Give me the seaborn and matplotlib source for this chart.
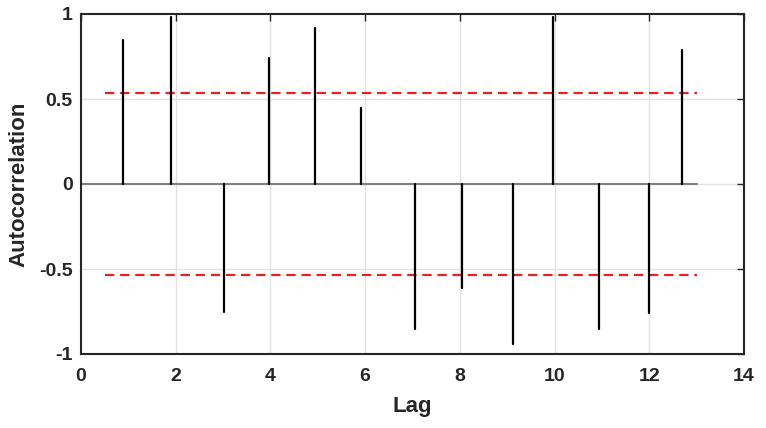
import numpy as np
import pandas as pd
import matplotlib
matplotlib.use("Agg")
import matplotlib.pyplot as plt
import seaborn as sns

# ---- data ----
lags = [0.89, 1.91, 3.02, 3.96, 4.95, 5.91, 7.05, 8.05, 9.12, 9.97, 10.94, 11.99, 12.70]
acf_values = [0.85, 0.98, -0.75, 0.74, 0.92, 0.45, -0.85, -0.61, -0.94, 0.98, -0.85, -0.76, 0.79]
conf_bound = 0.534
bound_range = [0.5, 13.0]
zero_range = [0.0, 13.0]
xtick_values = [0, 2, 4, 6, 8, 10, 12, 14]
xtick_labels = ["0", "2", "4", "6", "8", "10", "12", "14"]
ytick_values = [-1, -0.5, 0, 0.5, 1]
ytick_labels = ["-1", "-0.5", "0", "0.5", "1"]

sns.set_style("white")
plt.rcParams["font.family"] = ["Liberation Sans", "DejaVu Sans"]
plt.rcParams["axes.unicode_minus"] = False

fig = plt.figure(figsize=(7.66, 4.28), dpi=100)
ax = fig.add_axes([81 / 766, 74 / 428, 663 / 766, 340 / 428])

# grid
for xv in xtick_values[1:-1]:
    ax.axvline(xv, color="#e3e3e3", lw=1.0, zorder=0)
for yv in ytick_values[1:-1]:
    ax.axhline(yv, color="#e3e3e3", lw=1.0, zorder=0)

# zero line
zero_df = pd.DataFrame({"x": zero_range, "y": [0.0, 0.0]})
sns.lineplot(data=zero_df, x="x", y="y", ax=ax, color="#808080", lw=1.5, zorder=2)

# confidence bounds
for sgn in (1, -1):
    bdf = pd.DataFrame({"x": bound_range, "y": [sgn * conf_bound] * 2})
    sns.lineplot(data=bdf, x="x", y="y", ax=ax, color="#e8201e", lw=1.6,
                 dashes=False, linestyle=(0, (4.2, 2.6)), zorder=3)

# stems
rows = []
for i, (lx, v) in enumerate(zip(lags, acf_values)):
    rows.append({"stem": i, "x": lx, "y": 0.0})
    rows.append({"stem": i, "x": lx, "y": v})
stem_df = pd.DataFrame(rows)
sns.lineplot(data=stem_df, x="x", y="y", units="stem", estimator=None, ax=ax,
             color="black", lw=1.6, sort=False, zorder=4)

ax.set_xlim(0, 14)
ax.set_ylim(-1, 1)
ax.set_xticks(xtick_values)
ax.set_xticklabels(xtick_labels)
ax.set_yticks(ytick_values)
ax.set_yticklabels(ytick_labels)

ax.tick_params(direction="in", length=5, width=1.0, colors="#262626",
               top=True, right=True, labelsize=14)
ax.tick_params(axis="x", pad=10)
ax.tick_params(axis="y", pad=6)
for lab in ax.get_xticklabels() + ax.get_yticklabels():
    lab.set_fontweight("bold")
    lab.set_color("#262626")
for sp in ax.spines.values():
    sp.set_color("#262626")
    sp.set_linewidth(1.5)
    sp.set_visible(True)

ax.set_xlabel("Lag", fontsize=16, fontweight="bold", color="#262626", labelpad=8)
ax.set_ylabel("Autocorrelation", fontsize=16, fontweight="bold", color="#262626", labelpad=7)

fig.savefig("out.png", dpi=100)
